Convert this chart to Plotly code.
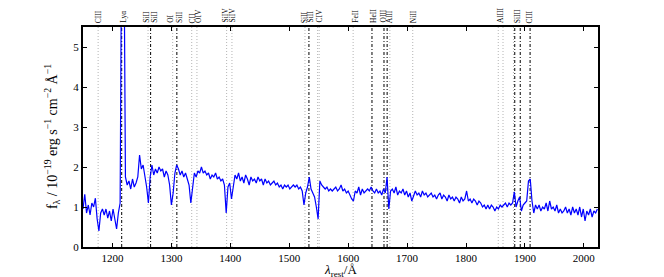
import plotly.graph_objects as go

# Wavelength grid (rest frame, Angstrom), 3 A sampling
wave = list(range(1150, 2024, 3))

# Flux density (1e-19 erg s-1 cm-2 A-1)
flux = [
    0.95, 1.32, 0.85, 1.05, 0.80, 1.10, 1.00, 1.22, 0.70, 0.40,
    0.85, 0.95, 0.80, 0.95, 0.72, 0.90, 0.65, 0.95, 0.70, 0.45,
    0.85, 1.10, 9.00, 9.00, 1.75, 1.55, 1.65, 1.45, 1.70, 1.50,
    1.60, 1.75, 2.30, 1.95, 2.05, 1.80, 1.50, 1.10, 1.75, 2.05,
    1.80, 1.95, 1.85, 2.00, 1.90, 1.95, 1.75, 1.90, 1.80, 1.55,
    1.05, 1.35, 1.85, 2.05, 1.95, 1.80, 1.90, 1.75, 1.85, 1.70,
    1.55, 1.10, 1.45, 1.85, 1.75, 1.90, 1.85, 2.00, 1.85, 1.90,
    1.80, 1.85, 1.70, 1.80, 1.75, 1.85, 1.70, 1.75, 1.65, 1.70,
    1.55, 0.85, 1.50, 1.60, 1.20, 1.55, 1.80, 1.70, 1.85, 1.65,
    1.75, 1.60, 1.80, 1.70, 1.55, 1.75, 1.65, 1.70, 1.60, 1.75,
    1.65, 1.70, 1.55, 1.70, 1.60, 1.65, 1.55, 1.60, 1.65, 1.55,
    1.60, 1.50, 1.55, 1.45, 1.55, 1.50, 1.55, 1.45, 1.50, 1.55,
    1.50, 1.55, 1.45, 1.50, 1.40, 1.05, 1.35, 1.50, 1.75, 1.45,
    1.35, 1.25, 1.00, 0.70, 1.65, 1.55, 1.50, 1.45, 1.50, 1.40,
    1.45, 1.40, 1.45, 1.50, 1.40, 1.45, 1.55, 1.40, 1.45, 1.35,
    1.40, 1.30, 1.20, 1.15, 1.40, 1.35, 1.50, 1.30, 1.45, 1.35,
    1.40, 1.45, 1.40, 1.50, 1.40, 1.35, 1.45, 1.35, 1.40, 1.30,
    1.45, 1.35, 1.75, 0.95, 1.40, 1.45, 1.35, 1.50, 1.30, 1.40,
    1.35, 1.45, 1.30, 1.40, 1.25, 1.35, 1.15, 1.30, 1.40, 1.30,
    1.35, 1.25, 1.40, 1.30, 1.35, 1.25, 1.30, 1.35, 1.25, 1.30,
    1.20, 1.30, 1.35, 1.20, 1.30, 1.25, 1.15, 1.30, 1.20, 1.25,
    1.15, 1.25, 1.20, 1.10, 1.25, 1.15, 1.20, 1.40, 1.15, 1.20,
    1.10, 1.20, 1.15, 1.05, 1.15, 1.10, 1.00, 1.05, 0.95, 1.05,
    0.95, 1.05, 1.00, 0.90, 1.00, 0.95, 1.05, 1.00, 1.05, 1.10,
    1.00, 1.10, 1.05, 1.10, 1.38, 1.00, 1.15, 1.25, 0.90, 1.05,
    1.10, 1.15, 1.65, 1.70, 1.15, 0.85, 1.05, 0.95, 1.05, 0.90,
    1.00, 0.95, 1.10, 0.90, 1.15, 0.95, 1.00, 0.90, 1.05, 0.85,
    0.95, 0.85, 0.90, 1.00, 0.85, 0.95, 0.80, 1.00, 0.85, 0.95,
    0.80, 1.00, 0.75, 0.95, 0.65, 0.90, 0.80, 0.95, 0.75, 0.90,
    0.85, 0.95,
]

# Absorption (ISM) lines: dotted grey
ism_lines = [1175.7, 1260.42, 1302.17, 1334.53, 1343.35, 1393.76, 1402.77,
             1526.71, 1548.20, 1550.78, 1608.45, 1670.79, 1709.60,
             1854.72, 1862.79, 1880.5]
# Emission / fine-structure lines: dash-dot black
emis_lines = [1215.67, 1264.74, 1309.28, 1533.43, 1640.42, 1660.81,
              1666.15, 1882.71, 1892.03, 1908.73]

# Top labels
label_text = ["CIII", "Lyα", "SiII", "SiII", "OI", "SiII", "CII", "OIV",
              "SiIV", "SiIV", "SiII", "SiII", "CIV", "FeII", "HeII",
              "OIII", "AlII", "NiII", "AlIII", "SiIII", "CIII"]
label_wave = [1176.7, 1217.5, 1256.6, 1270.2, 1297.4, 1312.8, 1336.6, 1345.1,
              1391.0, 1402.9, 1525.3, 1534.4, 1549.7, 1612.1, 1642.2,
              1659.2, 1670.4, 1711.2, 1858.6, 1887.0, 1908.5]

xticks = [1200, 1300, 1400, 1500, 1600, 1700, 1800, 1900, 2000]
yticks = [0, 1, 2, 3, 4, 5]

serif = "Liberation Serif, Times New Roman, serif"

fig = go.Figure()

shapes = []
for w in ism_lines:
    shapes.append(dict(type="line", xref="x", yref="paper", x0=w, x1=w,
                       y0=0, y1=1, layer="below",
                       line=dict(color="#b4b4b4", width=1, dash="1px,2px")))
for w in emis_lines:
    shapes.append(dict(type="line", xref="x", yref="paper", x0=w, x1=w,
                       y0=0, y1=1, layer="below",
                       line=dict(color="black", width=1,
                                 dash="3px,2px,1px,2px")))

fig.add_trace(go.Scatter(x=wave, y=flux, mode="lines",
                         line=dict(color="#0000ff", width=1.2),
                         showlegend=False, hoverinfo="skip"))

annotations = []
for t, w in zip(label_text, label_wave):
    annotations.append(dict(x=w, y=1, xref="x", yref="paper", text=t,
                            textangle=-90, showarrow=False,
                            xanchor="center", yanchor="bottom", yshift=2,
                            font=dict(family=serif, size=7.5, color="black")))

# Axis titles as annotations for exact placement
annotations.append(dict(x=0.5, y=-0.108, xref="paper", yref="paper",
                        text="<i>λ</i><sub>rest</sub>/Å", showarrow=False,
                        xanchor="center", yanchor="middle",
                        font=dict(family=serif, size=13, color="black")))
annotations.append(dict(x=-0.06, y=0.5, xref="paper", yref="paper",
                        text="f<sub>λ</sub> / 10<sup>−19</sup> erg s<sup>−1</sup> cm<sup>−2</sup> Å<sup>−1</sup>",
                        textangle=-90, showarrow=False,
                        xanchor="center", yanchor="middle",
                        font=dict(family=serif, size=14, color="black")))

# The page body adds an 8px offset; size the figure to compensate
fig.update_layout(
    width=656, height=269,
    margin=dict(l=75, r=66, t=19, b=30),
    paper_bgcolor="white", plot_bgcolor="white",
    shapes=shapes, annotations=annotations,
    font=dict(family=serif, color="black"),
)
fig.update_xaxes(range=[1150, 2024], tickvals=xticks,
                 ticktext=[str(v) for v in xticks],
                 ticks="inside", ticklen=4, tickwidth=1, tickcolor="black",
                 mirror="allticks", showline=True, linewidth=2, linecolor="black",
                 showgrid=False, zeroline=False,
                 tickfont=dict(family=serif, size=11),
                 automargin=False)
fig.update_yaxes(range=[0, 5.5], tickvals=yticks,
                 ticktext=[str(v) for v in yticks],
                 ticks="inside", ticklen=4, tickwidth=1, tickcolor="black",
                 mirror="allticks", showline=True, linewidth=2, linecolor="black",
                 showgrid=False, zeroline=False,
                 tickfont=dict(family=serif, size=11),
                 automargin=False)

fig.write_html("out.html")
